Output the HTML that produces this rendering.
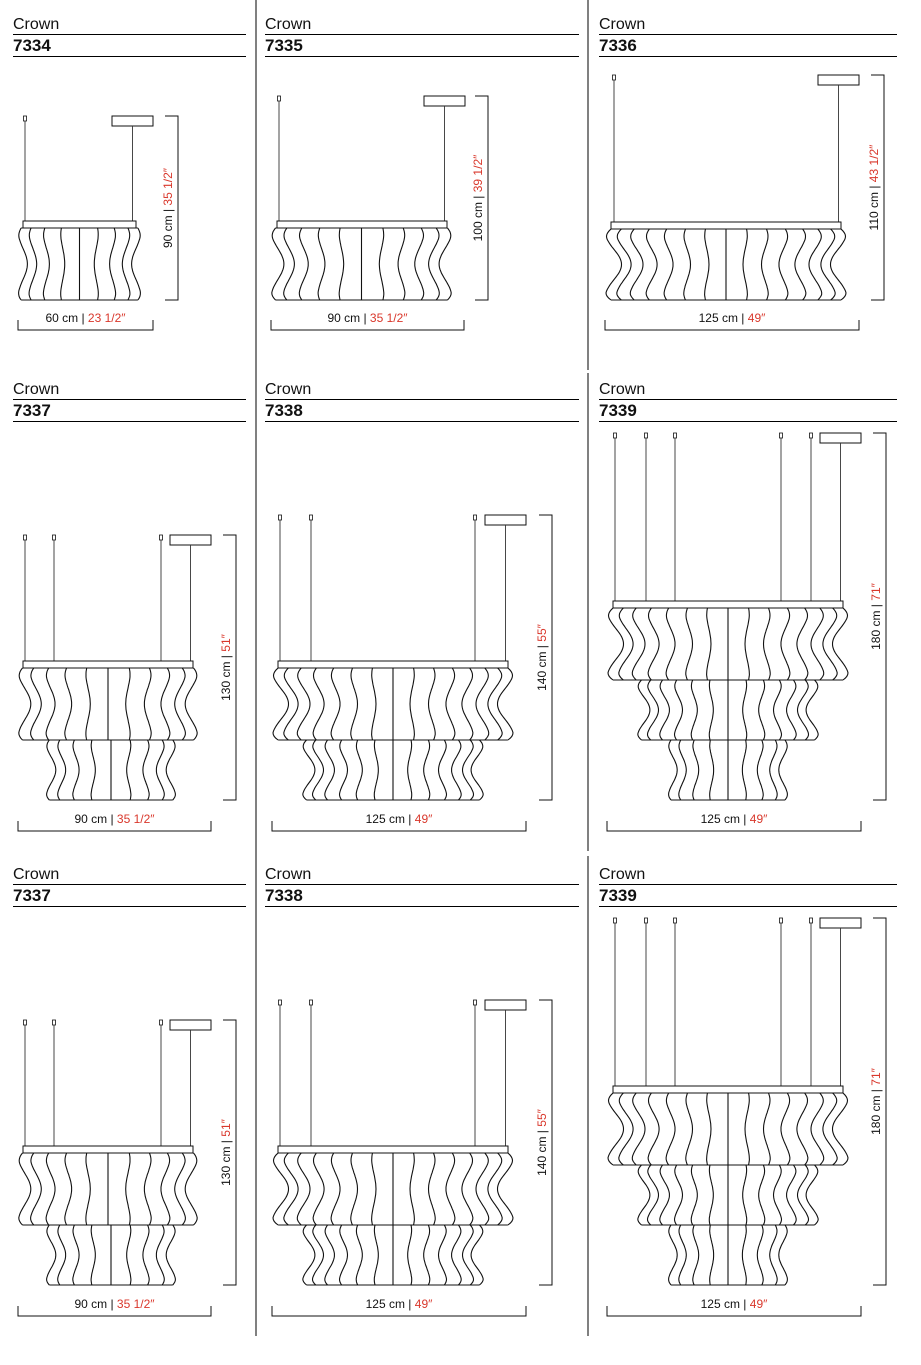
<!DOCTYPE html>
<html><head><meta charset="utf-8"><style>
html,body{margin:0;padding:0;background:#fff;}
svg{display:block;font-family:"Liberation Sans",sans-serif;}
</style></head><body>
<svg id="s" width="921" height="1365" viewBox="0 0 921 1365" xmlns="http://www.w3.org/2000/svg">
<rect width="921" height="1365" fill="#fff"/>
<line x1="256" y1="0" x2="256" y2="1336" stroke="#000" stroke-width="1"/>
<line x1="588" y1="0" x2="588" y2="370" stroke="#000" stroke-width="1"/>
<line x1="588" y1="373" x2="588" y2="851" stroke="#000" stroke-width="1"/>
<line x1="588" y1="856" x2="588" y2="1336" stroke="#000" stroke-width="1"/>
<g id="g"></g>
</svg>
<script>
var out='';
function hdr(x1,x2,y,num){
 out+='<text x="'+x1+'" y="'+(y+29)+'" font-size="16" fill="#111">Crown</text>';
 out+='<line x1="'+x1+'" y1="'+(y+34.5)+'" x2="'+x2+'" y2="'+(y+34.5)+'" stroke="#000"/>';
 out+='<text x="'+x1+'" y="'+(y+51)+'" font-size="17" font-weight="bold" fill="#111">'+num+'</text>';
 out+='<line x1="'+x1+'" y1="'+(y+56.5)+'" x2="'+x2+'" y2="'+(y+56.5)+'" stroke="#000"/>';
}
function tier(x0,x1,y0,y1,n){
 var xc=(x0+x1)/2,h=(x1-x0)/2,H=y1-y0;
 function X(p,t){
  var s=Math.pow(Math.sin(Math.PI*t),2.5);
  var sg=p>0?1:(p<0?-1:0);
  var taper=Math.pow(Math.max(0,1-t/0.15),2)*0.05+Math.pow(Math.max(0,1-(1-t)/0.12),2)*0.05;
  return xc+p*h-(p*0.12*h+sg*2)*s - p*h*taper;
 }
 for(var i=0;i<=n;i++){
  var p=-(0.45*Math.cos(Math.PI*i/n)+0.55*(1-2*i/n));
  if(Math.abs(p)<1e-9)p=0;
  var d='';
  for(var k=0;k<=40;k++){var t=k/40;d+=(k?'L':'M')+X(p,t).toFixed(1)+' '+(y0+t*H).toFixed(1);}
  out+='<path d="'+d+'" fill="none" stroke="#111" stroke-width="1.1"/>';
 }
 out+='<line x1="'+X(-1,1).toFixed(1)+'" y1="'+y1+'" x2="'+X(1,1).toFixed(1)+'" y2="'+y1+'" stroke="#111" stroke-width="1.1"/>';
 out+='<line x1="'+X(-1,0).toFixed(1)+'" y1="'+y0+'" x2="'+X(1,0).toFixed(1)+'" y2="'+y0+'" stroke="#111" stroke-width="1.1"/>';
}
function lamp(o){
 o.hooks.forEach(function(hx){
  out+='<rect x="'+(hx-1.5)+'" y="'+o.hy+'" width="3" height="5" fill="#fff" stroke="#111" stroke-width="0.8"/>';
  out+='<line x1="'+hx+'" y1="'+(o.hy+5)+'" x2="'+hx+'" y2="'+o.by+'" stroke="#333" stroke-width="0.9"/>';
 });
 out+='<rect x="'+o.c[0]+'" y="'+o.hy+'" width="'+(o.c[1]-o.c[0])+'" height="10" fill="#fff" stroke="#111" stroke-width="1"/>';
 var wx=(o.c[0]+o.c[1])/2;
 out+='<line x1="'+wx+'" y1="'+(o.hy+10)+'" x2="'+wx+'" y2="'+o.by+'" stroke="#333" stroke-width="0.9"/>';
 out+='<rect x="'+o.bar[0]+'" y="'+o.by+'" width="'+(o.bar[1]-o.bar[0])+'" height="7" fill="#fff" stroke="#111" stroke-width="1"/>';
 o.tiers.forEach(function(t){tier(t[0],t[1],t[2],t[3],t[4]);});
 var bot=o.tiers[o.tiers.length-1][3];
 out+='<path d="M'+(o.dx-13)+' '+o.hy+'H'+o.dx+'V'+bot+'H'+(o.dx-13)+'" fill="none" stroke="#111" stroke-width="1"/>';
 var cy=(o.hy+bot)/2;
 out+='<text transform="translate('+(o.dx-6)+','+cy+') rotate(-90)" text-anchor="middle" font-size="12" fill="#111">'+o.v[0]+' | <tspan fill="#d9372b">'+o.v[1]+'</tspan></text>';
 var y=o.hd[2];
 out+='<path d="M'+o.hd[0]+' '+(y-10)+'V'+y+'H'+o.hd[1]+'V'+(y-10)+'" fill="none" stroke="#111" stroke-width="1"/>';
 out+='<text x="'+((o.hd[0]+o.hd[1])/2)+'" y="'+(y-8)+'" text-anchor="middle" font-size="12" fill="#111">'+o.h[0]+' | <tspan fill="#d9372b">'+o.h[1]+'</tspan></text>';
}
hdr(13,246,0,'7334');hdr(265,579,0,'7335');hdr(599,897,0,'7336');
lamp({hooks:[25],hy:116,c:[112,153],by:221,bar:[23,136],tiers:[[18,141,228,300,8]],dx:178,v:['90 cm','35 1/2″'],hd:[18,153,330],h:['60 cm','23 1/2″']});
lamp({hooks:[279],hy:96,c:[424,465],by:221,bar:[277,447],tiers:[[271,452,228,300,10]],dx:488,v:['100 cm','39 1/2″'],hd:[271,464,330],h:['90 cm','35 1/2″']});
lamp({hooks:[614],hy:75,c:[818,859],by:222,bar:[611,841],tiers:[[605,847,229,300,14]],dx:884,v:['110 cm','43 1/2″'],hd:[605,859,330],h:['125 cm','49″']});
for(var r=0;r<2;r++){
 var off=r*485;
 hdr(13,246,365+off,'7337');hdr(265,579,365+off,'7338');hdr(599,897,365+off,'7339');
 lamp({hooks:[25,54,161],hy:535+off,c:[170,211],by:661+off,bar:[23,193],tiers:[[18,198,668+off,740+off,10],[46,176,740+off,800+off,8]],dx:236,v:['130 cm','51″'],hd:[18,211,831+off],h:['90 cm','35 1/2″']});
 lamp({hooks:[280,311,475],hy:515+off,c:[485,526],by:661+off,bar:[278,508],tiers:[[272,514,668+off,740+off,14],[302,484,740+off,800+off,12]],dx:552,v:['140 cm','55″'],hd:[272,526,831+off],h:['125 cm','49″']});
 lamp({hooks:[615,646,675,781,811],hy:433+off,c:[820,861],by:601+off,bar:[613,843],tiers:[[607,849,608+off,680+off,14],[637,819,680+off,740+off,12],[668,788,740+off,800+off,8]],dx:886,v:['180 cm','71″'],hd:[607,861,831+off],h:['125 cm','49″']});
}
document.getElementById('g').innerHTML=out;
</script>
</body></html>
